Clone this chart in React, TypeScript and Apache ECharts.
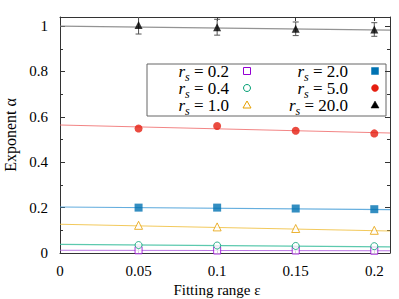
import React, { useEffect, useRef } from 'react';
import * as echarts from 'echarts';

const xValues = [0.05, 0.1, 0.15, 0.2];
const rsLabels = ['0.2', '0.4', '1.0', '2.0', '5.0', '20.0'];
const alpha02 = [0.012, 0.011, 0.011, 0.01];
const alpha04 = [0.035, 0.033, 0.031, 0.03];
const alpha10 = [0.122, 0.115, 0.108, 0.1];
const alpha20 = [0.2, 0.2, 0.196, 0.193];
const alpha50 = [0.549, 0.56, 0.539, 0.527];
const alpha200 = [1.005, 0.995, 0.988, 0.985];
const err200 = [0.04, 0.035, 0.03, 0.03];
const fitX = [0, 0.21];
const fit02 = [0.012, 0.01];
const fit04 = [0.038, 0.027];
const fit10 = [0.127, 0.097];
const fit20 = [0.203, 0.191];
const fit50 = [0.564, 0.529];
const fit200 = [1.0, 0.982];

const serif = '"Liberation Serif", "Times New Roman", serif';

const colors = ['#9400D3', '#009E73', '#E69F00', '#0072B2', '#E51E10', '#000000'];
const lineColors = ['#b060e0', '#40c0a0', '#f0c040', '#4aa0d8', '#f07070', '#808080'];
const symbols = ['rect', 'circle', 'triangle', 'rect', 'circle', 'triangle'];
const hollow = [true, true, true, false, false, false];
const sizes = [7, 7, 8, 8, 8, 8];
const values = [alpha02, alpha04, alpha10, alpha20, alpha50, alpha200];
const fits = [fit02, fit04, fit10, fit20, fit50, fit200];

export default function App() {
  const ref = useRef<HTMLDivElement>(null);
  useEffect(() => {
    if (!ref.current) return;
    const chart = echarts.init(ref.current, undefined, { renderer: 'svg' });

    const series: any[] = [];
    fits.forEach((f, i) => {
      series.push({
        type: 'line',
        data: fitX.map((x, j) => [x, f[j]]),
        symbol: 'none',
        lineStyle: { color: lineColors[i], width: 1.1, opacity: 0.85 },
        z: 1,
        silent: true,
      });
    });
    series.push({
      type: 'custom',
      data: xValues.map((x, i) => [x, alpha200[i] - err200[i], alpha200[i] + err200[i]]),
      encode: { x: 0, y: [1, 2] },
      clip: true,
      z: 2,
      renderItem: (params: any, api: any) => {
        const lo = api.coord([api.value(0), api.value(1)]);
        const hi = api.coord([api.value(0), api.value(2)]);
        const w = 3;
        const st = { stroke: '#555', lineWidth: 1 };
        return {
          type: 'group',
          children: [
            { type: 'line', shape: { x1: lo[0], y1: lo[1], x2: hi[0], y2: hi[1] }, style: st },
            { type: 'line', shape: { x1: lo[0] - w, y1: lo[1], x2: lo[0] + w, y2: lo[1] }, style: st },
            { type: 'line', shape: { x1: hi[0] - w, y1: hi[1], x2: hi[0] + w, y2: hi[1] }, style: st },
          ],
        };
      },
    });
    values.forEach((v, i) => {
      series.push({
        type: 'scatter',
        data: xValues.map((x, j) => [x, v[j]]),
        symbol: symbols[i],
        symbolSize: sizes[i],
        itemStyle: hollow[i]
          ? { color: '#fff', borderColor: colors[i], borderWidth: 1 }
          : { color: colors[i] },
        z: 3,
      });
    });

    // legend via graphic
    const legendChildren: any[] = [
      {
        type: 'rect',
        shape: { x: 147, y: 64, width: 239, height: 52 },
        style: { fill: '#fff', stroke: '#666', lineWidth: 1 },
      },
    ];
    const rowY = [71, 88, 105];
    const colText = [229, 348];
    const colSym = [247, 375];
    rsLabels.forEach((lab, i) => {
      const col = Math.floor(i / 3);
      const row = i % 3;
      const y = rowY[row];
      legendChildren.push({
        type: 'text',
        x: colText[col],
        y: y,
        style: {
          text: `{r|r}{s|s}{e| = ${lab}}`,
          align: 'right',
          textAlign: 'right',
          verticalAlign: 'middle',
          textVerticalAlign: 'middle',
          fill: '#000',
          rich: {
            r: { fontFamily: serif, fontSize: 17, fontStyle: 'italic', lineHeight: 16, fill: '#000' },
            s: { fontFamily: serif, fontSize: 12, fontStyle: 'italic', lineHeight: 12, padding: [12, 0, 0, 0], fill: '#000' },
            e: { fontFamily: serif, fontSize: 17, lineHeight: 16, fill: '#000' },
          },
        },
      });
      const sx = colSym[col];
      const c = colors[i];
      const st = hollow[i]
        ? { fill: '#fff', stroke: c, lineWidth: 1 }
        : { fill: c, stroke: c, lineWidth: 0.5 };
      if (symbols[i] === 'rect') {
        legendChildren.push({ type: 'rect', shape: { x: sx - 3.5, y: y - 3.5, width: 7, height: 7 }, style: st });
      } else if (symbols[i] === 'circle') {
        legendChildren.push({ type: 'circle', shape: { cx: sx, cy: y, r: 3.5 }, style: st });
      } else {
        legendChildren.push({
          type: 'polygon',
          shape: { points: [[sx, y - 4], [sx + 4, y + 3], [sx - 4, y + 3]] },
          style: st,
        });
      }
    });

    const axisLine = { show: true, onZero: false, lineStyle: { color: '#333', width: 1 } };
    const option: any = {
      animation: false,
      grid: { left: 60, right: 9, top: 17, bottom: 46, containLabel: false, outerBoundsMode: 'none' },
      xAxis: [
        {
          type: 'value',
          min: 0,
          max: 0.21,
          interval: 0.05,
          axisLine,
          axisTick: { show: true, inside: true, length: 4, lineStyle: { color: '#333' } },
          axisLabel: { showMaxLabel: false, fontFamily: serif, fontSize: 15, color: '#000', margin: 10 },
          splitLine: { show: false },
          name: 'Fitting range ε',
          nameLocation: 'middle',
          nameGap: 24,
          nameTextStyle: { fontFamily: serif, fontSize: 15, color: '#000', padding: [0, 16, 0, 0] },
        },
        {
          type: 'value',
          position: 'top',
          min: 0,
          max: 0.21,
          interval: 0.05,
          axisLine,
          axisTick: { show: true, inside: true, length: 4, lineStyle: { color: '#333' } },
          axisLabel: { show: false },
          splitLine: { show: false },
        },
      ],
      yAxis: [
        {
          type: 'value',
          min: 0,
          max: 1.04,
          interval: 0.2,
          axisLine,
          axisTick: { show: true, inside: true, length: 5, lineStyle: { color: '#333' } },
          minorTick: { show: true, splitNumber: 2, length: 3, lineStyle: { color: '#333' } },
          axisLabel: { showMaxLabel: false, fontFamily: serif, fontSize: 15, color: '#000', margin: 12 },
          splitLine: { show: false },
          name: 'Exponent α',
          nameLocation: 'middle',
          nameGap: 42,
          nameTextStyle: { fontFamily: serif, fontSize: 16, color: '#000' },
        },
        {
          type: 'value',
          position: 'right',
          min: 0,
          max: 1.04,
          interval: 0.2,
          axisLine,
          axisTick: { show: true, inside: true, length: 5, lineStyle: { color: '#333' } },
          minorTick: { show: true, splitNumber: 2, length: 3, lineStyle: { color: '#333' } },
          axisLabel: { show: false },
          splitLine: { show: false },
        },
      ],
      series,
      graphic: [{ type: 'group', z: 100, children: legendChildren }],
    };
    chart.setOption(option);
    return () => chart.dispose();
  }, []);
  return <div ref={ref} style={{ width: 399, height: 299, position: 'absolute', left: 0, top: 0 }} />;
}
